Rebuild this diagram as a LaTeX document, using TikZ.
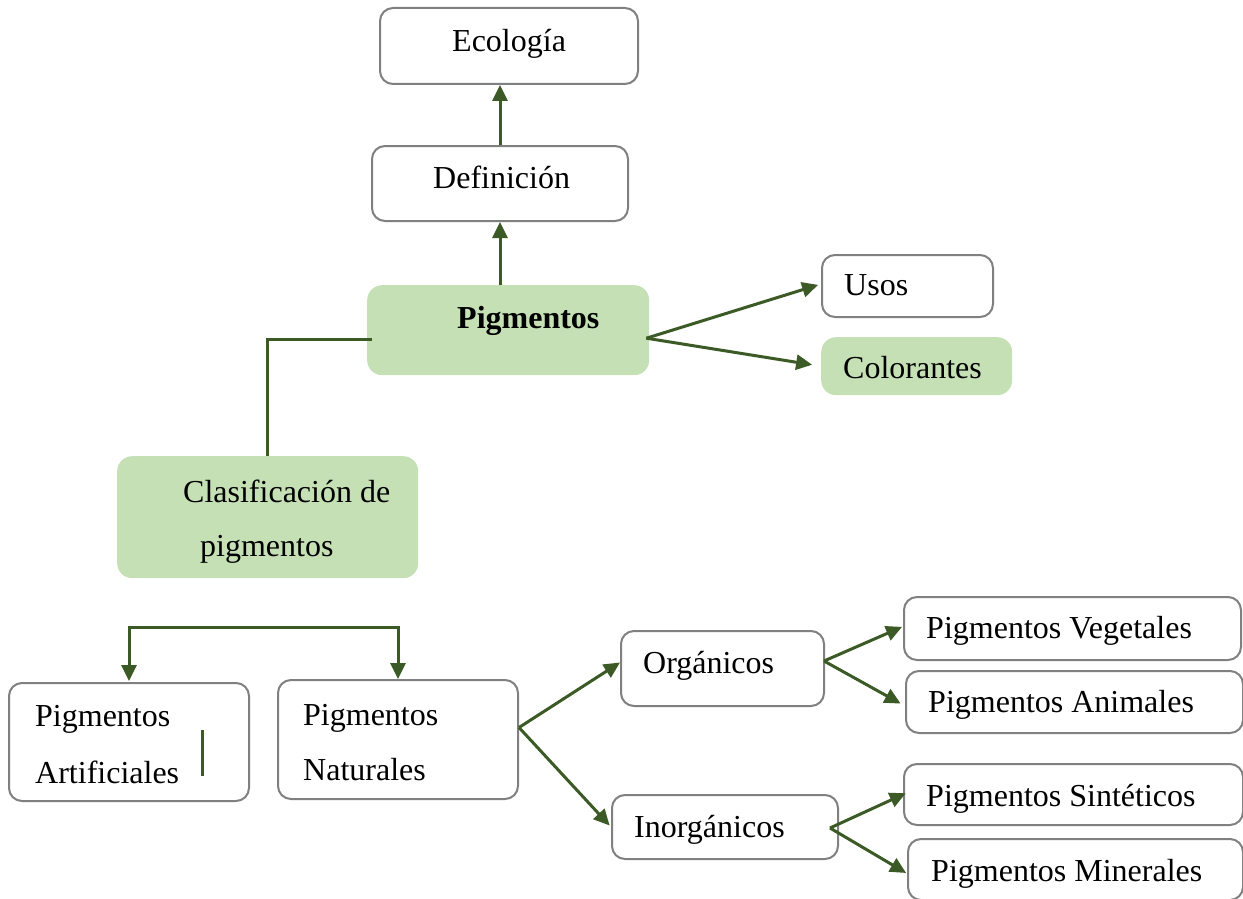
\documentclass[tikz,border=0pt]{standalone}
\usepackage{fontspec}
\setmainfont{Liberation Serif}
\usetikzlibrary{arrows.meta}
\definecolor{linkgreen}{HTML}{3B5A25}
\definecolor{boxgreen}{HTML}{C5E0B4}
\definecolor{boxgray}{HTML}{808080}
\tikzset{
  box/.style={draw=boxgray, line width=2pt, rounded corners=13pt, fill=white,
              inner sep=0pt, anchor=north west},
  gbox/.style={fill=boxgreen, draw=none, rounded corners=15pt,
               inner sep=0pt, anchor=north west},
  lbl/.style={anchor=base west, inner sep=0pt, font=\fontsize{32}{38}\selectfont},
  link/.style={draw=linkgreen, line width=3pt},
  arr/.style={link, -{Triangle[length=16pt,width=15pt]}},
  arrboth/.style={link, {Triangle[length=16pt,width=15pt]}-{Triangle[length=16pt,width=15pt]}},
}
\begin{document}
\begin{tikzpicture}[x=1pt, y=-1pt]
  \useasboundingbox (0,0) rectangle (1243,899);

  % boxes
  \node[box,  minimum width=258pt, minimum height=76pt]  (eco)   at (379,7)   {};
  \node[box,  minimum width=256pt, minimum height=75pt]  (def)   at (371,145) {};
  \node[gbox, minimum width=282pt, minimum height=90pt]  (pig)   at (367,285) {};
  \node[box,  minimum width=171pt, minimum height=62pt]  (usos)  at (821,254) {};
  \node[gbox, minimum width=191pt, minimum height=58pt]  (col)   at (821,337) {};
  \node[gbox, minimum width=301pt, minimum height=122pt] (clas)  at (117,456) {};
  \node[box,  minimum width=240pt, minimum height=118pt] (art)   at (8,682)   {};
  \node[box,  minimum width=240pt, minimum height=119pt] (nat)   at (277,679) {};
  \node[box,  minimum width=203pt, minimum height=75pt]  (org)   at (620,630) {};
  \node[box,  minimum width=226pt, minimum height=64pt]  (inorg) at (611,794) {};
  \node[box,  minimum width=337pt, minimum height=63pt]  (veg)   at (903,596) {};
  \node[box,  minimum width=337pt, minimum height=62pt]  (ani)   at (905,670) {};
  \node[box,  minimum width=339pt, minimum height=61pt]  (sin)   at (903,763) {};
  \node[box,  minimum width=335pt, minimum height=61pt]  (mine)  at (907,838) {};

  % texts
  \node[lbl] (eco-t)   at (452,52)  {Ecología};
  \node[lbl] (def-t)   at (433,188) {Definición};
  \node[lbl] (pig-t)   at (457,328) {\bfseries Pigmentos};
  \node[lbl] (usos-t)  at (844,295) {Usos};
  \node[lbl] (col-t)   at (843,378) {Colorantes};
  \node[lbl] (clas-t1) at (183,502) {Clasificación de};
  \node[lbl] (clas-t2) at (200,556) {pigmentos};
  \node[lbl] (art-t1)  at (35,726)  {Pigmentos};
  \node[lbl] (art-t2)  at (35,783)  {Artificiales};
  \node[lbl] (nat-t1)  at (303,725) {Pigmentos};
  \node[lbl] (nat-t2)  at (303,780) {Naturales};
  \node[lbl] (org-t)   at (643,673) {Orgánicos};
  \node[lbl] (inorg-t) at (634,837) {Inorgánicos};
  \node[lbl] (veg-t)   at (926,638) {Pigmentos Vegetales};
  \node[lbl] (ani-t)   at (928,712) {Pigmentos Animales};
  \node[lbl] (sin-t)   at (926,806) {Pigmentos Sintéticos};
  \node[lbl] (mine-t)  at (931,881) {Pigmentos Minerales};

  % branching points
  \coordinate (pigfork)   at ([xshift=-3pt,yshift=-8pt]pig.east);
  \coordinate (natfork)   at ([yshift=12pt]nat.east);
  \coordinate (orgfork)   at ([xshift=-1pt,yshift=7.5pt]org.east);
  \coordinate (inorgfork) at ([xshift=-9pt,yshift=-1pt]inorg.east);
  \coordinate (brk)       at (262,627);

  % connectors
  \draw[arr] (def.north -| 500,0) -- (eco.south -| 500,0);
  \draw[arr] (pig.north -| 500,0) -- (def.south -| 500,0);
  \draw[arr, shorten >=3pt] (pigfork) -- ([yshift=2pt]usos.west);
  \draw[arr, shorten >=9pt] (pigfork) -- (col.west);
  \draw[link] ([xshift=5pt,yshift=-9pt]pig.west) -| (clas.north);
  \draw[arrboth] ([yshift=1pt]art.north) |- (brk) -| (nat.north);
  \draw[link] (202,730) -- (202,776);
  \draw[arr] (natfork) -- ([yshift=6pt]org.west);
  \draw[arr, shorten >=2pt] (natfork) -- (inorg.west);
  \draw[arr, shorten >=1pt] (orgfork) -- ([yshift=2pt]veg.west);
  \draw[arr, shorten >=5pt] (orgfork) -- ([yshift=-4pt]ani.west);
  \draw[arr, shorten >=-3pt] (inorgfork) -- (sin.west);
  \draw[arr, shorten >=1pt] (inorgfork) -- ([yshift=-4pt]mine.west);
\end{tikzpicture}
\end{document}
